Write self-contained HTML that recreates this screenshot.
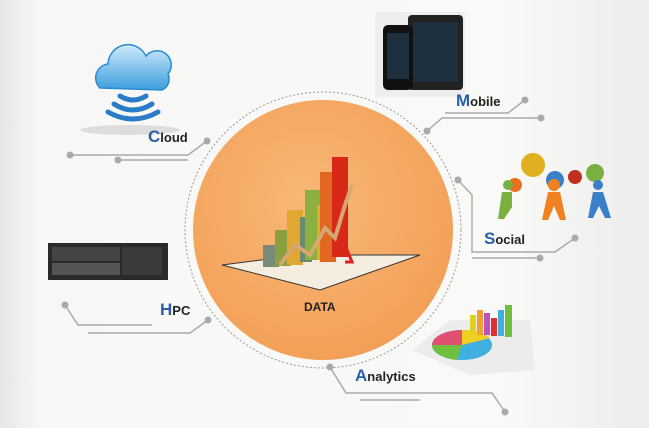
<!DOCTYPE html>
<html><head><style>
body{margin:0;width:649px;height:428px;overflow:hidden;background:linear-gradient(90deg,#e6e6e6 0,#f7f7f5 6%,#f9f9f7 78%,#ececea 100%);font-family:"Liberation Sans",sans-serif;}
.l{position:absolute;font-weight:bold;font-size:13px;color:#222}
.l b{color:#2b5fa8;font-size:17px}
</style></head><body>
<svg width="649" height="428" style="position:absolute;left:0;top:0">
<defs>
<radialGradient id="og" cx="45%" cy="40%" r="65%"><stop offset="0" stop-color="#f9b878"/><stop offset="1" stop-color="#f29e55"/></radialGradient>
<linearGradient id="cl" x1="0" y1="0" x2="0" y2="1"><stop offset="0" stop-color="#cfeafb"/><stop offset="1" stop-color="#3c9ede"/></linearGradient>
</defs>
<circle cx="323" cy="230" r="138" fill="none" stroke="#999" stroke-dasharray="2,2" stroke-width="1"/>
<circle cx="323" cy="230" r="130" fill="url(#og)"/>
<polygon points="222,265 300,255 420,255 320,290" fill="#f5ede0" stroke="#333"/>
<rect x="263" y="245" width="16" height="22" fill="#7a8a78"/>
<rect x="275" y="230" width="16" height="36" fill="#8aa040"/>
<rect x="287" y="210" width="16" height="55" fill="#e0a830"/>
<rect x="300" y="217" width="12" height="45" fill="#6a8a70"/>
<rect x="305" y="190" width="16" height="70" fill="#8ab040"/>
<rect x="317" y="205" width="12" height="55" fill="#d8b030"/>
<rect x="320" y="172" width="16" height="90" fill="#e06820"/>
<rect x="332" y="157" width="16" height="100" fill="#d82818"/>
<polyline points="280,265 295,245 310,255 325,228 335,238 345,205 352,185" fill="none" stroke="#d4a870" stroke-width="4"/>
<polyline points="345,245 352,262 345,262" fill="none" stroke="#e02020" stroke-width="3"/>
<g stroke="#aaa" stroke-width="1.5" fill="none">
<polyline points="70,155 188,155 207,141"/><polyline points="118,160 188,160"/>
<polyline points="65,305 78,325 152,325"/><polyline points="88,333 190,333 208,320"/>
<polyline points="525,100 508,113 445,113"/><polyline points="427,131 442,118 541,118"/>
<polyline points="458,180 472,195 472,252 555,252 575,238"/><polyline points="472,258 540,258"/>
<polyline points="330,367 346,393 492,393 505,412"/><polyline points="360,400 420,400"/>
</g>
<g fill="#aaa">
<circle cx="70" cy="155" r="3.5"/><circle cx="118" cy="160" r="3.5"/><circle cx="207" cy="141" r="3.5"/>
<circle cx="65" cy="305" r="3.5"/><circle cx="208" cy="320" r="3.5"/>
<circle cx="427" cy="131" r="3.5"/><circle cx="525" cy="100" r="3.5"/><circle cx="541" cy="118" r="3.5"/>
<circle cx="458" cy="180" r="3.5"/><circle cx="540" cy="258" r="3.5"/><circle cx="575" cy="238" r="3.5"/>
<circle cx="330" cy="367" r="3.5"/><circle cx="505" cy="412" r="3.5"/>
</g>
<ellipse cx="130" cy="130" rx="50" ry="5" fill="#ccc" opacity=".6"/>
<path d="M100,88 a14,14 0 0 1 8,-24 a20,20 0 0 1 38,-8 a14,14 0 0 1 22,18 a12,12 0 0 1 -6,16 z" fill="url(#cl)" stroke="#2a8ad0" stroke-width="1.5"/>
<g fill="none" stroke="#2a7cc8" stroke-width="5" stroke-linecap="round">
<path d="M120,96 q13,8 26,0"/><path d="M114,104 q19,12 38,0"/><path d="M108,112 q25,14 50,0"/></g>
<rect x="48" y="243" width="120" height="37" fill="#2a2a2a"/>
<rect x="52" y="247" width="68" height="14" fill="#444"/><rect x="122" y="247" width="40" height="28" fill="#3a3a3a"/>
<rect x="52" y="263" width="68" height="12" fill="#555"/>
<rect x="375" y="12" width="90" height="85" fill="#eee"/>
<rect x="408" y="15" width="55" height="75" rx="4" fill="#222"/><rect x="413" y="22" width="45" height="60" fill="#1e3040"/>
<rect x="383" y="25" width="30" height="65" rx="5" fill="#111"/><rect x="387" y="33" width="22" height="46" fill="#1e3040"/>
<g><circle cx="533" cy="165" r="12" fill="#e0b020"/><circle cx="515" cy="185" r="7" fill="#e87020"/><circle cx="555" cy="180" r="9" fill="#3a80c8"/><circle cx="575" cy="177" r="7" fill="#c03020"/><circle cx="595" cy="173" r="9" fill="#7ab040"/></g>
<circle cx="508" cy="185" r="5" fill="#7ab040"/><path d="M502,192 l10,0 l0,15 l-8,12 l-6,0 z" fill="#7ab040"/>
<circle cx="554" cy="185" r="6" fill="#f08020"/><path d="M548,192 l12,0 l6,28 l-6,0 l-6,-14 l-6,14 l-6,0z" fill="#f08020"/>
<circle cx="598" cy="185" r="5" fill="#3a80c8"/><path d="M593,192 l10,0 l8,26 l-6,0 l-6,-12 l-6,12 l-5,0z" fill="#3a80c8"/>
<polygon points="412,350 450,320 530,320 535,370 470,375" fill="#ececec"/>
<ellipse cx="462" cy="345" rx="30" ry="15" fill="#40b0e0"/>
<path d="M462,345 l-30,0 a30,15 0 0 1 30,-15z" fill="#e05070"/>
<path d="M462,345 l0,-15 a30,15 0 0 1 28,8z" fill="#f0d020"/>
<path d="M462,345 l-30,0 a30,15 0 0 0 25,15z" fill="#70c040"/>
<rect x="470" y="315" width="6" height="20" fill="#e0d020"/><rect x="477" y="310" width="6" height="25" fill="#f0a030"/><rect x="484" y="313" width="6" height="22" fill="#c050c0"/><rect x="491" y="318" width="6" height="18" fill="#e03030"/><rect x="498" y="310" width="6" height="26" fill="#40b0e0"/><rect x="505" y="305" width="7" height="32" fill="#70c040"/>
</svg>
<div class="l" style="left:148px;top:127px"><b>C</b>loud</div>
<div class="l" style="left:456px;top:91px"><b>M</b>obile</div>
<div class="l" style="left:484px;top:229px"><b>S</b>ocial</div>
<div class="l" style="left:160px;top:300px"><b>H</b>PC</div>
<div class="l" style="left:355px;top:366px"><b>A</b>nalytics</div>
<div class="l" style="left:304px;top:300px;font-size:12px">DATA</div>
</body></html>
